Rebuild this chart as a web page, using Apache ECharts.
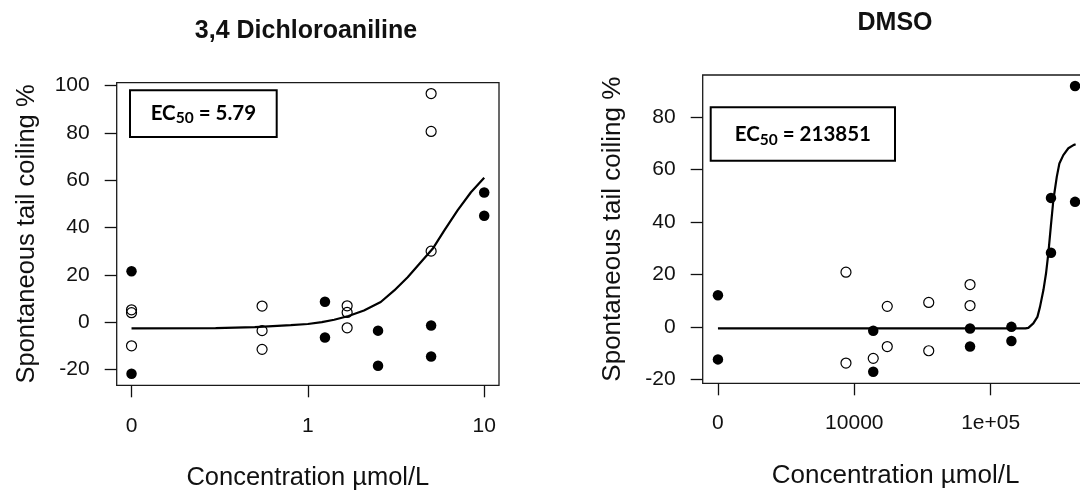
<!DOCTYPE html>
<html>
<head>
<meta charset="utf-8">
<script src="https://cdn.jsdelivr.net/npm/echarts@6/dist/echarts.min.js"></script>
<style>
  html, body { margin: 0; padding: 0; background: #fff; overflow: hidden; }
  #chart { width: 1100px; height: 490px; }
</style>
</head>
<body>
<div id="chart"></div>
<script>
// 3,4 Dichloroaniline (µmol/L). The control group sits at 0.1 on the log axis and is labelled "0".
const dcaOpenConc   = [0.1, 0.1, 0.1, 0.55, 0.55, 0.55, 1.67, 1.67, 1.67, 5, 5, 5];
const dcaOpenPct    = [5.2, 4.0, -10.0, 6.8, -3.6, -11.5, 6.9, 4.1, -2.4, 96.6, 80.6, 30.0];
const dcaFilledConc = [0.1, 0.1, 1.25, 1.25, 2.5, 2.5, 5, 5, 10, 10];
const dcaFilledPct  = [21.5, -21.8, 8.6, -6.5, -3.6, -18.4, -1.4, -14.5, 54.8, 45.0];
const dcaFitConc    = [0.1, 0.3, 0.5, 0.8, 1.0, 1.2, 1.41, 1.7, 2.08, 2.59, 3.09, 3.68, 4.38, 5.1, 5.93, 7.06, 8.41, 10];
const dcaFitPct     = [-2.6, -2.5, -2.1, -1.3, -0.8, 0, 1.0, 2.6, 4.9, 8.5, 13.4, 19.0, 25.4, 31.0, 38.7, 47.2, 54.9, 61.0];
const dcaEC50 = '5.79';

// DMSO (µmol/L). The control group sits at 1000 on the log axis and is labelled "0".
const dmsoOpenConc   = [8690, 8690, 13770, 17450, 17450, 35150, 35150, 70600, 70600];
const dmsoOpenPct    = [20.8, -13.8, -12.0, 7.8, -7.5, 9.3, -9.1, 16.1, 8.1];
const dmsoFilledConc = [1000, 1000, 13770, 13770, 70600, 70600, 142000, 142000, 277000, 277000, 416000, 416000];
const dmsoFilledPct  = [12.0, -12.4, -1.5, -17.1, -0.6, -7.5, 0.0, -5.4, 49.1, 28.2, 91.7, 47.6];
const dmsoFitConc    = [1000, 100000, 180000, 189000, 205600, 220300, 230100, 243800, 254700, 264900, 276100, 288400, 305500, 319200, 341200, 371500, 404600, 420000];
const dmsoFitPct     = [-0.6, -0.6, -0.6, -0.4, 1.3, 3.8, 7.6, 14.0, 20.3, 28.0, 38.1, 48.3, 57.1, 62.2, 65.4, 68.0, 69.2, 69.5];
const dmsoEC50 = '213851';

// Axis ticks and their printed labels
const dcaXTicks  = [0.1, 1, 10];
const dcaXLabels = ['0', '1', '10'];
const dmsoXTicks  = [1000, 10000, 100000];
const dmsoXLabels = ['0', '10000', '1e+05'];
const dcaYTicks  = [-20, 0, 20, 40, 60, 80, 100];
const dmsoYTicks = [-20, 0, 20, 40, 60, 80];

const zip = (xs, ys) => xs.map((x, i) => [x, ys[i]]);
const INK = '#111';
const FONT = 'Liberation Sans, Arial, sans-serif';

function logLabel(ticks, labels) {
  return v => {
    const i = ticks.findIndex(t => Math.abs(Math.log10(t) - Math.log10(v)) < 1e-6);
    return i < 0 ? '' : labels[i];
  };
}

function xAxisFor(gridIndex, min, max, ticks, labels, labelMargin, nameSize, nameGap) {
  return {
    gridIndex, type: 'log', logBase: 10, min, max,
    axisLine: { show: false, onZero: false },
    splitLine: { show: false },
    axisTick: { customValues: ticks, length: 12, lineStyle: { color: INK, width: 1.3 } },
    axisLabel: { customValues: ticks, formatter: logLabel(ticks, labels), margin: labelMargin,
                 fontSize: 21, fontFamily: FONT, color: INK },
    name: 'Concentration µmol/L', nameLocation: 'middle', nameGap,
    nameTextStyle: { fontSize: nameSize, fontFamily: FONT, color: INK }
  };
}

function yAxisFor(gridIndex, min, max, ticks, nameSize, nameGap) {
  return {
    gridIndex, type: 'value', min, max,
    axisLine: { show: false, onZero: false },
    splitLine: { show: false },
    axisTick: { customValues: ticks, length: 12, lineStyle: { color: INK, width: 1.3 } },
    axisLabel: { customValues: ticks, margin: 27, fontSize: 21, fontFamily: FONT, color: INK },
    name: 'Spontaneous tail coiling %', nameLocation: 'middle', nameGap, nameRotate: 90,
    nameTextStyle: { fontSize: nameSize, fontFamily: FONT, color: INK }
  };
}

function panelSeries(idx, openC, openP, fillC, fillP, fitC, fitP) {
  return [
    { type: 'scatter', xAxisIndex: idx, yAxisIndex: idx, data: zip(openC, openP),
      symbol: 'circle', symbolSize: 10, silent: true, z: 3,
      itemStyle: { color: 'rgba(0,0,0,0)', borderColor: '#000', borderWidth: 1.2, opacity: 1 } },
    { type: 'scatter', xAxisIndex: idx, yAxisIndex: idx, data: zip(fillC, fillP),
      symbol: 'circle', symbolSize: 10.5, silent: true, z: 3,
      itemStyle: { color: '#000', opacity: 1 } },
    { type: 'line', xAxisIndex: idx, yAxisIndex: idx, data: zip(fitC, fitP),
      showSymbol: false, silent: true, z: 4, smooth: false,
      lineStyle: { color: '#000', width: 2.2 } }
  ];
}

function ec50Box(x, y, w, h, value, main, sub, drop) {
  return [
    { type: 'rect', shape: { x, y, width: w, height: h }, z: 10,
      style: { fill: '#fff', stroke: '#000', lineWidth: 2 } },
    { type: 'text', x: x + w / 2, y: y + h / 2, z: 11,
      style: {
        text: '{m|EC}{s|50}{m| = ' + value + '}',
        align: 'center', verticalAlign: 'middle',
        rich: {
          m: { fontFamily: 'Lato', fontWeight: 'bold', fontSize: main, fill: '#000' },
          s: { fontFamily: 'Lato', fontWeight: 'bold', fontSize: sub, fill: '#000', padding: [drop, 0, 0, 0] }
        }
      } }
  ];
}

const chart = echarts.init(document.getElementById('chart'), null, { renderer: 'canvas' });
chart.setOption({
  animation: false,
  backgroundColor: '#fff',
  textStyle: { fontFamily: FONT },
  title: [
    { text: '3,4 Dichloroaniline', left: 306, top: 19, textAlign: 'center', padding: 0,
      textStyle: { fontSize: 25, fontWeight: 'bold', fontFamily: FONT, color: INK } },
    { text: 'DMSO', left: 895, top: 11, textAlign: 'center', padding: 0,
      textStyle: { fontSize: 25, fontWeight: 'bold', fontFamily: FONT, color: INK } }
  ],
  grid: [
    { left: 116.7, top: 82.7, width: 382.3, height: 302.6, show: true, outerBoundsMode: 'none',
      borderColor: '#1a1a1a', borderWidth: 1.3, backgroundColor: 'rgba(0,0,0,0)' },
    { left: 702.7, top: 75, width: 385.8, height: 308.3, show: true, outerBoundsMode: 'none',
      borderColor: '#1a1a1a', borderWidth: 1.3, backgroundColor: 'rgba(0,0,0,0)' }
  ],
  xAxis: [
    xAxisFor(0, 0.0824, 12.13, dcaXTicks, dcaXLabels, 30, 25.5, 80),
    xAxisFor(1, 773, 522000, dmsoXTicks, dmsoXLabels, 29.5, 26, 80)
  ],
  yAxis: [
    yAxisFor(0, -26.7, 101.2, dcaYTicks, 25.5, 77),
    yAxisFor(1, -21.5, 95.9, dmsoYTicks, 26, 77)
  ],
  series: [
    ...panelSeries(0, dcaOpenConc, dcaOpenPct, dcaFilledConc, dcaFilledPct, dcaFitConc, dcaFitPct),
    ...panelSeries(1, dmsoOpenConc, dmsoOpenPct, dmsoFilledConc, dmsoFilledPct, dmsoFitConc, dmsoFitPct)
  ],
  graphic: [
    ...ec50Box(130, 90.3, 146.7, 46.7, dcaEC50, 20.5, 15.5, 8),
    ...ec50Box(710.7, 107.3, 184.3, 53.4, dmsoEC50, 20.5, 15.5, 11)
  ]
});
</script>
</body>
</html>
